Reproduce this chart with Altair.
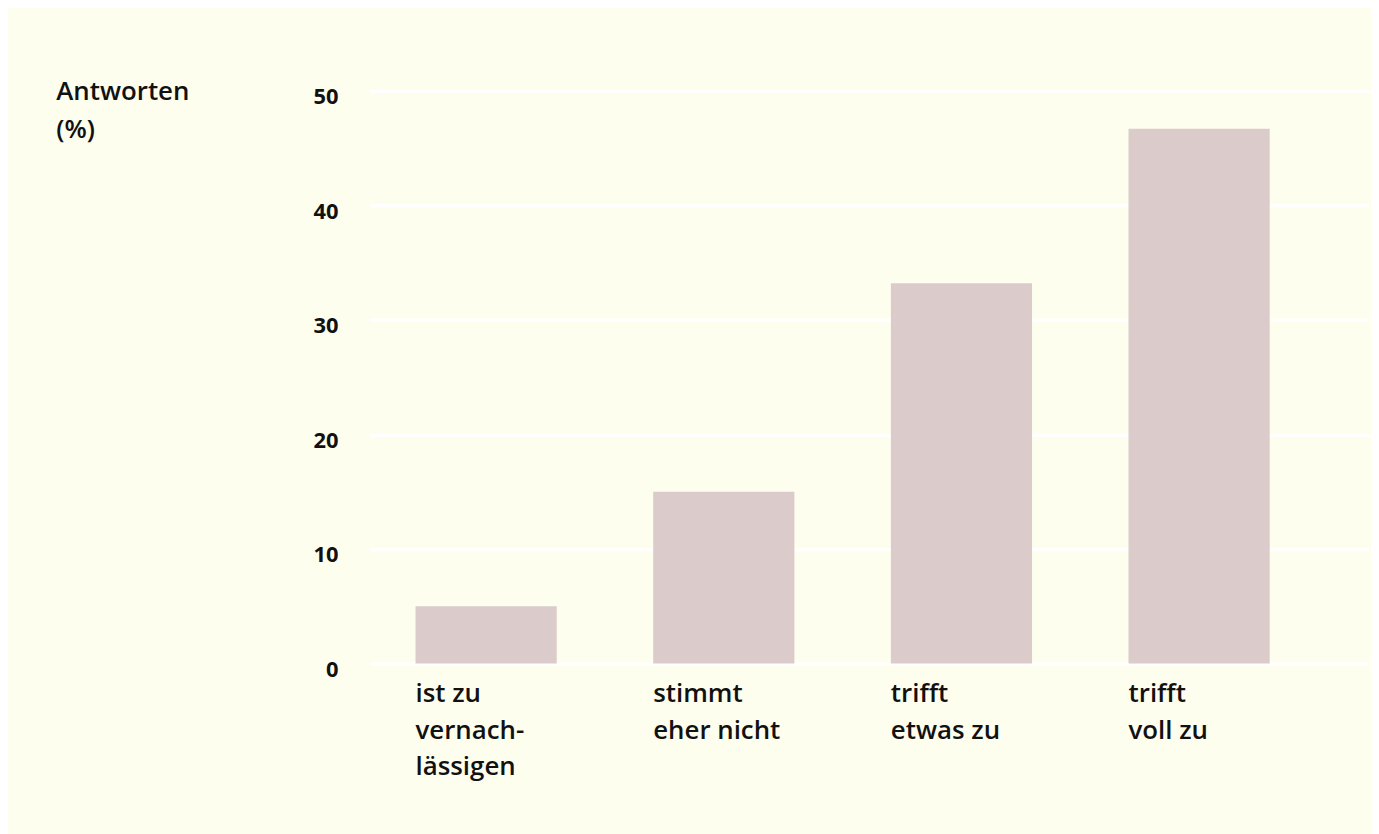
import altair as alt
import pandas as pd

categories = ["ist zu|vernach-|lässigen", "stimmt|eher nicht", "trifft|etwas zu", "trifft|voll zu"]
values = [5, 15, 33.2, 46.7]
y_ticks = [0, 10, 20, 30, 40, 50]

df = pd.DataFrame({"cat": categories, "val": values})

FONT = "Open Sans"
BG = "#FEFEEE"

chart = alt.Chart(df).mark_bar(color="#DBCBCB").encode(
    x=alt.X(
        "cat:N",
        sort=None,
        scale=alt.Scale(paddingInner=0.406, paddingOuter=0.305, align=0.315),
        axis=alt.Axis(
            title=None,
            labelAngle=0,
            labelAlign="left",
            labelBaseline="top",
            labelOffset=-71,
            labelExpr="split(datum.label, '|')",
            labelLineHeight=37,
            labelPadding=17,
            labelFont=FONT,
            labelFontSize=26,
            labelFontWeight=600,
            labelColor="#111111",
            domain=False,
            ticks=False,
            labelLimit=300,
        ),
    ),
    y=alt.Y(
        "val:Q",
        scale=alt.Scale(domain=[0, 50], nice=False),
        axis=alt.Axis(
            values=y_ticks,
            title=["Antworten", "(%)"],
            titleAngle=0,
            titleAlign="left",
            titleBaseline="alphabetic",
            titleX=-316,
            titleY=9,
            titleFont=FONT,
            titleFontSize=26,
            titleFontWeight=600,
            titleColor="#111111",
            titleLineHeight=38,
            labelFont=FONT,
            labelFontSize=22,
            labelFontWeight="bold",
            labelColor="#111111",
            labelPadding=32,
            labelOffset=6,
            domain=False,
            ticks=False,
            grid=True,
            gridColor="#FFFFFF",
            gridWidth=3,
            gridOpacity=1,
        ),
    ),
).properties(
    width=1005,
    height=576,
    background=BG,
    autosize=alt.AutoSizeParams(type="none"),
    padding={"left": 364, "top": 81, "right": 2, "bottom": 169},
).configure_view(stroke=None)

chart.save("out.html", embed_options={"renderer": "svg", "actions": False})
